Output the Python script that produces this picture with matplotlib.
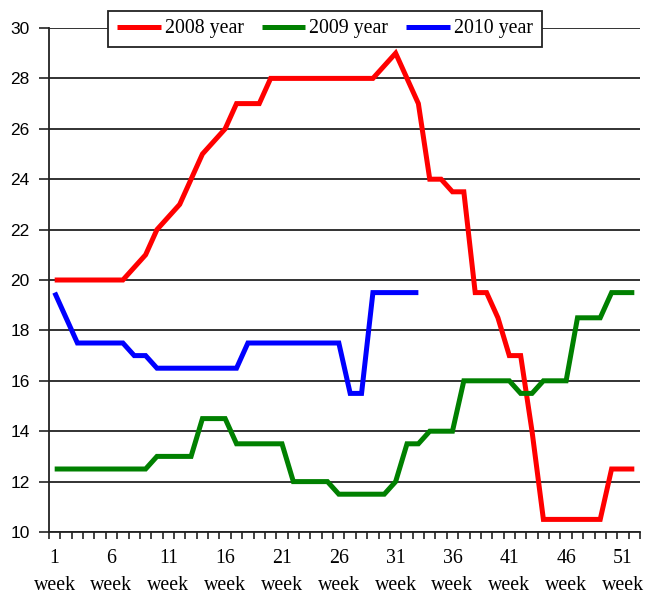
import numpy as np
import matplotlib
matplotlib.use("Agg")
import matplotlib.pyplot as plt

# === Weekly values per year ===
weeks_2008 = list(range(1, 53))
values_2008 = [20, 20, 20, 20, 20, 20, 20, 20.5, 21, 22,
               22.5, 23, 24, 25, 25.5, 26, 27, 27, 27, 28,
               28, 28, 28, 28, 28, 28, 28, 28, 28, 28.5,
               29, 28, 27, 24, 24, 23.5, 23.5, 19.5, 19.5, 18.5,
               17, 17, 14, 10.5, 10.5, 10.5, 10.5, 10.5, 10.5, 12.5,
               12.5, 12.5]

weeks_2009 = list(range(1, 53))
values_2009 = [12.5, 12.5, 12.5, 12.5, 12.5, 12.5, 12.5, 12.5, 12.5, 13,
               13, 13, 13, 14.5, 14.5, 14.5, 13.5, 13.5, 13.5, 13.5,
               13.5, 12, 12, 12, 12, 11.5, 11.5, 11.5, 11.5, 11.5,
               12, 13.5, 13.5, 14, 14, 14, 16, 16, 16, 16,
               16, 15.5, 15.5, 16, 16, 16, 18.5, 18.5, 18.5, 19.5,
               19.5, 19.5]

weeks_2010 = list(range(1, 34))
values_2010 = [19.5, 18.5, 17.5, 17.5, 17.5, 17.5, 17.5, 17, 17, 16.5,
               16.5, 16.5, 16.5, 16.5, 16.5, 16.5, 16.5, 17.5, 17.5, 17.5,
               17.5, 17.5, 17.5, 17.5, 17.5, 17.5, 15.5, 15.5, 19.5, 19.5,
               19.5, 19.5, 19.5]

series_labels = ["2008 year", "2009 year", "2010 year"]
series_colors = ["#FF0000", "#008000", "#0000FF"]

label_weeks = list(range(1, 53, 5))
label_texts = [f"{w}\nweek" for w in label_weeks]
y_ticks = list(range(10, 31, 2))

# === Figure ===
fig = plt.figure(figsize=(6.47, 5.95), dpi=100)
ax = fig.add_axes([49 / 647, 1 - 532 / 595, 591 / 647, 504 / 595])

for yv in y_ticks:
    ax.axhline(yv, color="#222222", lw=1.3, zorder=1)

series = [(weeks_2008, values_2008), (weeks_2009, values_2009), (weeks_2010, values_2010)]
handles = []
for (wx, vy), lab, col in zip(series, series_labels, series_colors):
    h, = ax.plot(wx, vy, color=col, lw=3.6, label=lab, zorder=3,
                 solid_joinstyle="miter", solid_capstyle="butt")
    handles.append(h)

ax.set_xlim(0.5, 52.5)
ax.set_ylim(10, 30)

# tick marks between weeks, labels centered on every fifth week
ax.set_xticks(np.arange(0.5, 53, 1))
ax.set_xticklabels([])
ax.set_xticks(label_weeks, minor=True)
ax.set_xticklabels(label_texts, minor=True, family="Liberation Serif",
                   fontsize=14.3, linespacing=1.6)
ax.tick_params(axis="x", which="major", direction="out", length=5, width=1.2, color="#222222")
ax.tick_params(axis="x", which="minor", length=0, pad=12)

ax.set_yticks(y_ticks)
ax.set_yticklabels([str(v) for v in y_ticks], family="Liberation Sans", fontsize=12.5)
ax.tick_params(axis="y", direction="out", length=7, width=1.2, color="#222222", pad=7)

for side in ["top", "right"]:
    ax.spines[side].set_visible(False)
for side in ["left", "bottom"]:
    ax.spines[side].set_color("#222222")
    ax.spines[side].set_linewidth(1.3)

leg = fig.legend(handles=handles, loc="center", ncol=3,
                 bbox_to_anchor=(325 / 647, 1 - 29 / 595), bbox_transform=fig.transFigure,
                 frameon=True, fancybox=False, framealpha=1, edgecolor="#222222",
                 prop={"family": "Liberation Serif", "size": 14.3},
                 handlelength=2.2, handletextpad=0.2, columnspacing=0.9,
                 borderpad=0.45, borderaxespad=0)
leg.get_frame().set_linewidth(1.3)

fig.savefig("out.png", dpi=100)
